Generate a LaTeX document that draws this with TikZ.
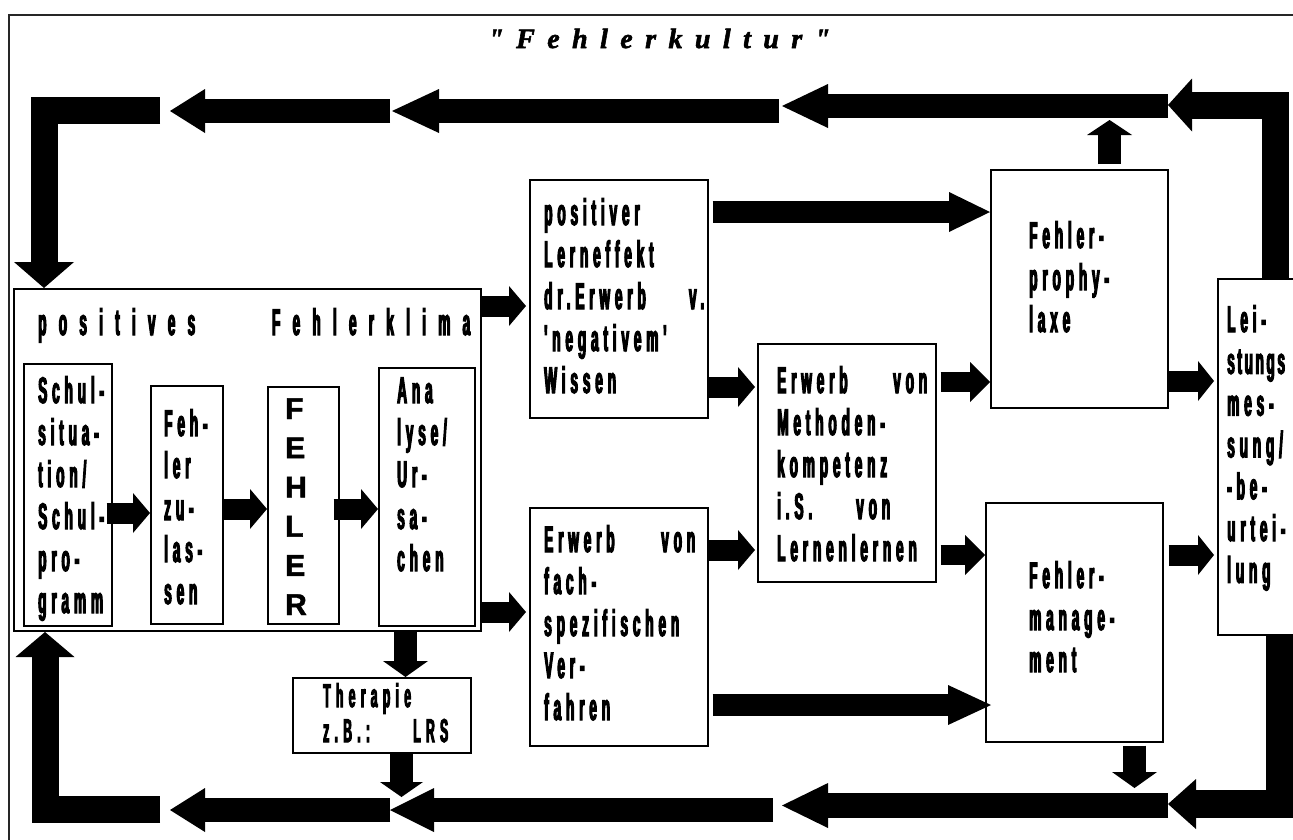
\documentclass[tikz,border=0pt]{standalone}
\usepackage{fontspec}
\usetikzlibrary{arrows.meta,calc}
\newfontfamily\cond{Liberation Sans}[FakeStretch=0.37,LetterSpace=13,BoldFeatures={FakeBold=3}]
\newfontfamily\titlefont{Liberation Serif}[BoldItalicFeatures={FakeBold=2}]
\newfontfamily\plainsans{Liberation Sans}[BoldFeatures={FakeBold=1.5}]
\newcommand\stack[2][42pt]{\vtop{\baselineskip=#1\lineskiplimit=-1000pt\lineskip=0pt #2}}
\tikzset{
  box/.style={draw=black, line width=1.5pt, inner sep=0pt, anchor=north west},
  txt/.style={inner sep=0pt, anchor=base west, font=\cond\bfseries\fontsize{37pt}{42pt}\selectfont},
  arr/.style n args={3}{draw=black, line width=#1, -{Triangle[length=#2,width=#3,line width=0pt]}},
  mid/.style={arr={21pt}{17pt}{40pt}},
}
\begin{document}
\begin{tikzpicture}[x=1pt,y=-1pt]
\useasboundingbox (0,0) rectangle (1293,839);
\clip (0,0) rectangle (1293,839);
\fill[white] (0,0) rectangle (1293,839);
% frame
\node[draw=black!85, line width=2pt, inner sep=0pt, anchor=north west, minimum width=1400pt, minimum height=1000pt] (frame) at (8,14) {};
% title
\node[inner sep=0pt, anchor=base west] (title) at (488,48) {\titlefont\bfseries\itshape\fontsize{28pt}{28pt}\selectfont\hbox to 342pt{"\hfill F\hfill e\hfill h\hfill l\hfill e\hfill r\hfill k\hfill u\hfill l\hfill t\hfill u\hfill r\hfill "}};
% boxes
\node[box, line width=2pt, minimum width=467pt, minimum height=342pt] (posk) at (13,288) {};
\node[box, minimum width=88pt, minimum height=262pt] (schul) at (23,363) {};
\node[box, minimum width=72pt, minimum height=238pt] (feh) at (150,385) {};
\node[box, minimum width=71pt, minimum height=237pt] (fehler) at (267,386) {};
\node[box, minimum width=96pt, minimum height=258pt] (ana) at (378,367) {};
\node[box, minimum width=178pt, minimum height=238pt] (lern) at (529,179) {};
\node[box, minimum width=178pt, minimum height=238pt] (fach) at (529,507) {};
\node[box, minimum width=178pt, minimum height=238pt] (meth) at (757,343) {};
\node[box, minimum width=177pt, minimum height=238pt] (prophy) at (990,169) {};
\node[box, minimum width=177pt, minimum height=239pt] (manage) at (985,502) {};
\node[box, minimum width=115pt, minimum height=356pt] (leist) at (1217,278) {};
\node[box, minimum width=178pt, minimum height=75pt] (ther) at (292,677) {};
% texts
\node[txt] (tpos) at (38,335) {\addfontfeature{LetterSpace=33}\hbox to 432pt{positives\hfill Fehlerklima}};
\node[txt] (tschul) at (38,403) {\stack{\hbox{Schul-}\hbox{situa-}\hbox{tion/}\hbox{Schul-}\hbox{pro-}\hbox{gramm}}};
\node[txt] (tfeh) at (164,436) {\stack{\hbox{Feh-}\hbox{ler}\hbox{zu-}\hbox{las-}\hbox{sen}}};
\node[inner sep=0pt, anchor=base west, font=\plainsans\bfseries\fontsize{30pt}{30pt}\selectfont] (tfehler) at (285,419) {\stack[39.2pt]{\hbox{F}\hbox{E}\hbox{H}\hbox{L}\hbox{E}\hbox{R}}};
\node[txt] (tana) at (397,403) {\stack{\hbox{Ana}\hbox{lyse/}\hbox{Ur-}\hbox{sa-}\hbox{chen}}};
\node[txt] (tlern) at (544,225) {\stack{\hbox{positiver}\hbox{Lerneffekt}\hbox to 160pt{dr.Erwerb\hfill v.}\hbox{'negativem'}\hbox{Wissen}}};
\node[txt] (tfach) at (544,552) {\stack{\hbox to 151pt{Erwerb\hfill von}\hbox{fach-}\hbox{spezifischen}\hbox{Ver-}\hbox{fahren}}};
\node[txt] (tmeth) at (777,393) {\stack{\hbox to 150pt{Erwerb\hfill von}\hbox{Methoden-}\hbox{kompetenz}\hbox to 113pt{i.S.\hfill von}\hbox{Lernenlernen}}};
\node[txt] (tproph) at (1029,248) {\stack{\hbox{Fehler-}\hbox{prophy-}\hbox{laxe}}};
\node[txt] (tmanage) at (1029,588) {\stack{\hbox{Fehler-}\hbox{manage-}\hbox{ment}}};
\node[txt] (tleist) at (1227,332) {\stack[41.8pt]{\hbox{Lei-}\hbox{\addfontfeature{LetterSpace=7}stungs}\hbox{mes-}\hbox{sung/}\hbox{-be-}\hbox{urtei-}\hbox{lung}}};
\node[txt, font=\cond\bfseries\fontsize{33pt}{35pt}\selectfont] (tther) at (323,707) {\addfontfeature{LetterSpace=16}\stack[35pt]{\hbox{Therapie}\hbox to 125pt{z.B.:\hfill LRS}}};
% coordinates for the loop arrows
\coordinate (p5) at (1168,105);
\coordinate (q4s) at (1168,106);
\coordinate (q4t) at (782,106);
\coordinate (q3s) at (779,111);
\coordinate (q3t) at (392,111);
\coordinate (q2s) at (390,111);
\coordinate (q2t) at (170,111);
\coordinate (q1s) at (160,110);
\coordinate (r5t) at (1168,804);
\coordinate (r4s) at (1168,805.5);
\coordinate (r4t) at (782,805.5);
\coordinate (r3s) at (773,810);
\coordinate (r3t) at (390,810);
\coordinate (r2s) at (390,810);
\coordinate (r2t) at (170,810);
\coordinate (r1s) at (160,809);
\coordinate (dA) at (405.5,631);
\coordinate (dT) at (401.5,797);
\coordinate (uP) at (1109.5,120);
\coordinate (dM) at (1134.5,788);
% top loop
\draw[arr={27pt}{24pt}{53pt}] (leist.north) |- (p5);
\draw[arr={24pt}{46pt}{44pt}] (q4s) -- (q4t);
\draw[arr={24pt}{47pt}{44pt}] (q3s) -- (q3t);
\draw[arr={24pt}{35pt}{44pt}] (q2s) -- (q2t);
\draw[arr={27pt}{26pt}{60pt}] (q1s) -| ([xshift=31pt]posk.north west);
% bottom loop
\draw[arr={28pt}{28pt}{50pt}] ([xshift=5pt]leist.south) |- (r5t);
\draw[arr={25pt}{46pt}{45pt}] (r4s) -- (r4t);
\draw[arr={24pt}{44pt}{44pt}] (r3s) -- (r3t);
\draw[arr={24pt}{35pt}{44pt}] (r2s) -- (r2t);
\draw[arr={27pt}{25pt}{59pt}] (r1s) -| ([xshift=32pt]posk.south west);
% inner arrows
\draw[mid] ([xshift=-6pt]schul.east |- 0,513) -- (feh.west |- 0,513);
\draw[mid] (feh.east |- 0,509) -- (fehler.west |- 0,509);
\draw[mid] ([xshift=-6pt]fehler.east |- 0,509) -- (ana.west |- 0,509);
\draw[mid] (posk.east |- 0,306) -- ([xshift=-3pt]lern.west |- 0,306);
\draw[mid] (posk.east |- 0,612) -- ([xshift=-3pt]fach.west |- 0,612);
\draw[mid] (lern.east |- 0,387) -- ([xshift=-2pt]meth.west |- 0,387);
\draw[mid] (fach.east |- 0,550) -- ([xshift=-2pt]meth.west |- 0,550);
\draw[arr={20pt}{20pt}{40pt}] ([xshift=4pt]meth.east |- 0,382) -- (prophy.west |- 0,382);
\draw[arr={20pt}{20pt}{40pt}] ([xshift=4pt]meth.east |- 0,555) -- (manage.west |- 0,555);
\draw[arr={21pt}{16pt}{40pt}] (prophy.east |- 0,381) -- ([xshift=-3pt]leist.west |- 0,381);
\draw[arr={21pt}{16pt}{40pt}] ([xshift=5pt]manage.east |- 0,555) -- ([xshift=-3pt]leist.west |- 0,555);
\draw[arr={22pt}{41pt}{40pt}] ([xshift=4pt]lern.east |- 0,212) -- (prophy.west |- 0,212);
\draw[arr={22pt}{43pt}{40pt}] ([xshift=4pt]fach.east |- 0,705) -- ([xshift=6pt]manage.west |- 0,705);
% vertical arrows
\draw[arr={23pt}{16pt}{45pt}] (dA) -- (dA |- ther.north);
\draw[arr={23pt}{15pt}{43pt}] (ther.south -| dT) -- (dT);
\draw[arr={23pt}{15pt}{45pt}] ([yshift=5pt]prophy.north -| uP) -- (uP);
\draw[arr={23pt}{16pt}{45pt}] ([yshift=-3pt]manage.south -| dM) -- (dM);
\end{tikzpicture}
\end{document}
